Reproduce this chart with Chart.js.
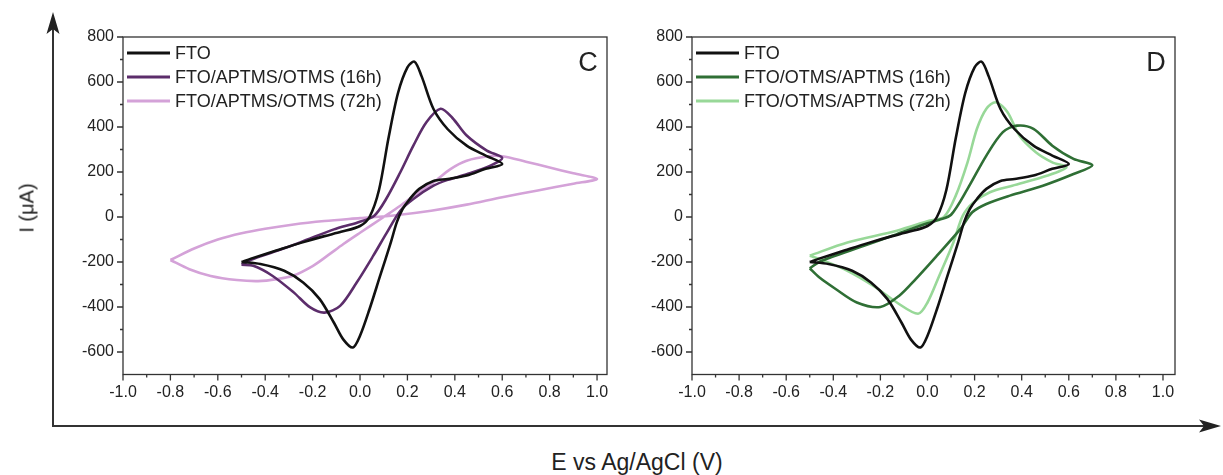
<!DOCTYPE html>
<html>
<head>
<meta charset="utf-8">
<script src="https://cdn.jsdelivr.net/npm/chart.js@4/dist/chart.umd.min.js"></script>
<style>
  body { margin: 0; background: #fff; width: 1223px; height: 475px; position: relative; overflow: hidden; font-family: "Liberation Sans", Arial, sans-serif; color: #222; }
  svg { position: absolute; left: 0; top: 0; }
  #cvC { position: absolute; left: 0; top: 0; }
  #cvD { position: absolute; left: 620px; top: 0; }
  .ylab { position: absolute; left: 27px; top: 208px; transform: translate(-50%, -50%) rotate(-90deg); font-size: 20px; white-space: nowrap; }
  .xlab { position: absolute; left: 637px; top: 462px; transform: translate(-50%, -50%); font-size: 23px; white-space: nowrap; }
</style>
</head>
<body>
<svg width="1223" height="475">
  <line x1="53" y1="426" x2="53" y2="24" stroke="#333" stroke-width="2"/>
  <path d="M53,12 L59.5,34 L53,29 L46.5,34 Z" fill="#222"/>
  <line x1="52" y1="426" x2="1208" y2="426" stroke="#333" stroke-width="2"/>
  <path d="M1221,426 L1199,419.5 L1204,426 L1199,432.5 Z" fill="#222"/>
</svg>
<canvas id="cvC" width="620" height="420"></canvas>
<canvas id="cvD" width="603" height="420"></canvas>
<div class="ylab">I (μA)</div>
<div class="xlab">E vs Ag/AgCl (V)</div>
<script>
// tick labels
const xTicks = [-1.0, -0.8, -0.6, -0.4, -0.2, 0.0, 0.2, 0.4, 0.6, 0.8, 1.0];
const yTicks = [-600, -400, -200, 0, 200, 400, 600, 800];

// bare FTO (same in both panels)
const ftoE = [-0.50, -0.46, -0.35, -0.25, -0.15, -0.08, 0.00, 0.04, 0.08, 0.12, 0.16, 0.20, 0.23, 0.26, 0.31, 0.37, 0.45, 0.53, 0.60,
  0.53, 0.45, 0.37, 0.31, 0.25, 0.21, 0.18, 0.155, 0.13, 0.085, 0.04, 0.00, -0.03, -0.07, -0.11, -0.17, -0.24, -0.32, -0.42];
const ftoI = [-200, -185, -148, -115, -85, -66, -40, 0, 120, 350, 550, 665, 690, 625, 480, 390, 317, 273, 236,
  214, 184, 169, 160, 125, 80, 36, -24, -113, -261, -410, -528, -580, -545, -470, -365, -291, -239, -209];

// panel C: FTO/APTMS/OTMS
const c16E = [-0.50, -0.46, -0.35, -0.25, -0.11, -0.01, 0.06, 0.11, 0.17, 0.225, 0.28, 0.34, 0.39, 0.45, 0.535, 0.60,
  0.55, 0.45, 0.37, 0.31, 0.225, 0.17, 0.11, 0.056, -0.014, -0.084, -0.15, -0.21, -0.28, -0.37, -0.45];
const c16I = [-212, -190, -150, -112, -55, -24, 6, 80, 199, 317, 421, 481, 440, 362, 295, 262,
  228, 190, 165, 139, 80, 28, -75, -172, -291, -395, -425, -402, -335, -261, -217];
const c72E = [-0.80, -0.72, -0.63, -0.52, -0.43, -0.35, -0.28, -0.20, -0.14, -0.07, 0.00, 0.10, 0.17, 0.24, 0.31, 0.38, 0.45, 0.54, 0.60, 0.70, 0.80, 0.90, 1.00,
  0.90, 0.75, 0.60, 0.45, 0.30, 0.15, 0.00, -0.15, -0.28, -0.40, -0.50, -0.60, -0.70];
const c72I = [-191, -232, -262, -280, -285, -276, -260, -218, -174, -120, -70, 0, 50, 105, 154, 212, 250, 270, 270, 246, 220, 194, 169,
  148, 118, 88, 55, 28, 8, -5, -18, -33, -52, -72, -100, -140];

// panel D: FTO/OTMS/APTMS
const d16E = [-0.50, -0.46, -0.41, -0.27, -0.13, 0.00, 0.05, 0.10, 0.17, 0.25, 0.32, 0.38, 0.45, 0.53, 0.62, 0.70,
  0.62, 0.49, 0.35, 0.25, 0.19, 0.14, 0.04, -0.05, -0.12, -0.20, -0.30, -0.39, -0.46];
const d16I = [-228, -200, -179, -128, -76, -28, -12, 10, 125, 273, 377, 406, 392, 317, 258, 230,
  191, 139, 95, 58, 21, -53, -172, -276, -350, -400, -380, -320, -268];
const d72E = [-0.50, -0.34, -0.13, 0.01, 0.07, 0.12, 0.17, 0.21, 0.25, 0.29, 0.34, 0.39, 0.46, 0.53, 0.59,
  0.51, 0.36, 0.265, 0.195, 0.15, 0.11, 0.05, 0.00, -0.04, -0.13, -0.23, -0.34, -0.44];
const d72I = [-172, -113, -61, -16, 0, 95, 243, 392, 481, 510, 466, 362, 288, 243, 221,
  184, 139, 110, 65, 6, -113, -261, -380, -430, -380, -306, -239, -194];

const labelsC = ['FTO', 'FTO/APTMS/OTMS (16h)', 'FTO/APTMS/OTMS (72h)'];
const labelsD = ['FTO', 'FTO/OTMS/APTMS (16h)', 'FTO/OTMS/APTMS (72h)'];
const colorsC = ['#111111', '#5c2d6b', '#d4a2d8'];
const colorsD = ['#111111', '#2f6f35', '#98d898'];

// closed CV loop
function loop(E, I) {
  const p = E.map((e, i) => ({ x: e, y: I[i] }));
  p.push(p[0]);
  return p;
}

// box, outward ticks, legend and panel letter
const frame = {
  id: 'frame',
  afterDraw(chart, args, opts) {
    const { ctx, chartArea: a, scales: { x, y } } = chart;
    ctx.save();
    ctx.strokeStyle = '#333';
    ctx.lineWidth = 1.3;
    ctx.strokeRect(a.left, a.top, a.right - a.left, a.bottom - a.top);
    ctx.beginPath();
    for (let v = -10; v <= 10; v++) {
      const px = x.getPixelForValue(v / 10);
      const len = v % 2 === 0 ? 6 : 3;
      ctx.moveTo(px, a.bottom);
      ctx.lineTo(px, a.bottom + len);
    }
    for (let v = -6; v <= 8; v++) {
      const py = y.getPixelForValue(v * 100);
      const len = v % 2 === 0 ? 6 : 3;
      ctx.moveTo(a.left, py);
      ctx.lineTo(a.left - len, py);
    }
    ctx.stroke();

    // legend
    ctx.font = '18px "Liberation Sans", Arial, sans-serif';
    ctx.textBaseline = 'middle';
    ctx.fillStyle = '#222';
    chart.data.datasets.forEach((ds, i) => {
      const ly = a.top + 16 + i * 24;
      ctx.strokeStyle = ds.borderColor;
      ctx.lineWidth = 3;
      ctx.beginPath();
      ctx.moveTo(a.left + 4, ly);
      ctx.lineTo(a.left + 47, ly);
      ctx.stroke();
      ctx.fillText(ds.label, a.left + 52, ly + 1);
    });

    ctx.font = '27px "Liberation Sans", Arial, sans-serif';
    ctx.textAlign = 'center';
    ctx.fillText(opts.letter, a.right - 19, a.top + 27);
    ctx.restore();
  }
};

function makeChart(id, labels, colors, series, letter, xMax, padRight, yWidth) {
  const tickFont = { family: '"Liberation Sans", Arial, sans-serif', size: 16 };
  return new Chart(document.getElementById(id), {
    type: 'scatter',
    data: {
      datasets: series.map((pts, i) => ({
        label: labels[i],
        data: pts,
        showLine: true,
        borderColor: colors[i],
        backgroundColor: colors[i],
        borderWidth: 2.6,
        pointRadius: 0,
        tension: 0.3,
        fill: false
      }))
    },
    options: {
      responsive: false,
      animation: false,
      layout: { padding: { top: 37, right: padRight, left: 0, bottom: 0 } },
      plugins: { legend: { display: false }, tooltip: { enabled: false }, frame: { letter: letter } },
      scales: {
        x: {
          type: 'linear', min: -1.0, max: xMax,
          grid: { display: false, drawTicks: false },
          border: { display: false },
          ticks: { color: '#222', font: tickFont, padding: 8, maxRotation: 0, callback: v => Number(v).toFixed(1) },
          afterBuildTicks: s => { s.ticks = xTicks.map(v => ({ value: v })); },
          afterFit: s => { s.height = 45.5; }
        },
        y: {
          type: 'linear', min: -700, max: 800,
          grid: { display: false, drawTicks: false },
          border: { display: false },
          ticks: { color: '#222', font: tickFont, padding: 9 },
          afterBuildTicks: s => { s.ticks = yTicks.map(v => ({ value: v })); },
          afterFit: s => { s.width = yWidth; }
        }
      }
    },
    plugins: [frame]
  });
}

makeChart('cvC', labelsC, colorsC,
  [loop(ftoE, ftoI), loop(c16E, c16I), loop(c72E, c72I)], 'C', 1.042, 13, 123);
makeChart('cvD', labelsD, colorsD,
  [loop(ftoE, ftoI), loop(d16E, d16I), loop(d72E, d72I)], 'D', 1.051, 48, 72);
</script>
</body>
</html>
